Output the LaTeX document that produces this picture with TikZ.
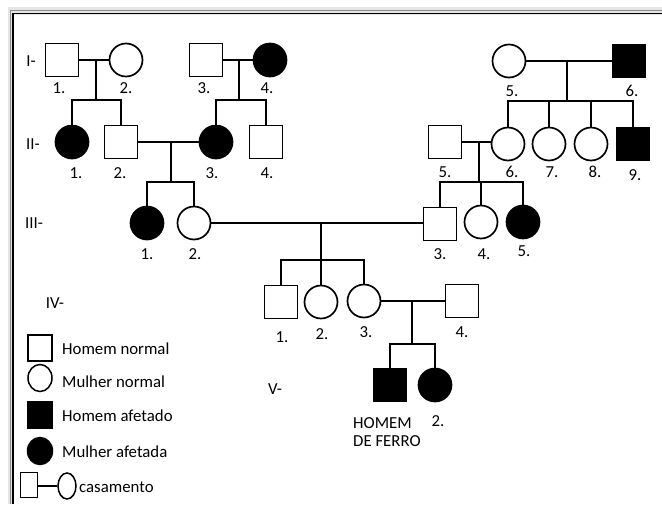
\documentclass[tikz,border=0pt]{standalone}
\usepackage{fontspec}
\setmainfont{Carlito}
\usetikzlibrary{shapes.geometric}
\begin{document}
\begin{tikzpicture}[x=1pt,y=-1pt,
  every node/.style={font=\fontsize{16.8}{19.5}\selectfont},
  ln/.style={line width=1.7pt},
  msq/.style={draw,line width=1.7pt,rectangle,minimum size=33pt,inner sep=0pt},
  fsq/.style={msq,fill=black},
  fem/.style={draw,line width=1.7pt,circle,minimum size=33pt,inner sep=0pt},
  ffem/.style={fem,fill=black},
  lbl/.style={inner sep=0pt},
  txt/.style={inner sep=0pt,anchor=west}]
% frame
\useasboundingbox (0,0) rectangle (662,504);
\fill[black!10] (8,7) rectangle (662,504);
\fill[white] (14,15) rectangle (662,504);
\draw[black!45,line width=1pt] (10.5,504) -- (10.5,10.5) -- (662,10.5);
\draw[black,line width=1.8pt] (13,504) -- (13,13.5) -- (662,13.5);
% generation labels
\node[lbl] (gI) at (31,61) {I-};
\node[lbl] (gII) at (33,144) {II-};
\node[lbl] (gIII) at (34,223) {III-};
\node[lbl] (gIV) at (55,303) {IV-};
\node[lbl] (gV) at (275,389) {V-};
% generation I
\node[msq] (I1) at (62,60) {};
\node[fem] (I2) at (126,60) {};
\node[msq] (I3) at (206,60) {};
\node[ffem] (I4) at (270,60) {};
\node[fem] (I5) at (509,61) {};
\node[fsq] (I6) at (629,61) {};
\node[lbl] (lI1) at (59,88) {1.};
\node[lbl] (lI2) at (126,88) {2.};
\node[lbl] (lI3) at (204,88) {3.};
\node[lbl] (lI4) at (267,88) {4.};
\node[lbl] (lI5) at (512,91) {5.};
\node[lbl] (lI6) at (632,91) {6.};
% generation II
\node[ffem] (II1) at (72,142) {};
\node[msq] (II2) at (121,142) {};
\node[ffem] (II3) at (216,142) {};
\node[msq] (II4) at (266,142) {};
\node[msq] (II5) at (445,142) {};
\node[fem] (II6) at (508,144) {};
\node[fem] (II7) at (549,144) {};
\node[fem] (II8) at (591,144) {};
\node[fsq] (II9) at (633,144) {};
\node[lbl] (lII1) at (76,173) {1.};
\node[lbl] (lII2) at (120,173) {2.};
\node[lbl] (lII3) at (212,173) {3.};
\node[lbl] (lII4) at (267,173) {4.};
\node[lbl] (lII5) at (445,172) {5.};
\node[lbl] (lII6) at (512,172) {6.};
\node[lbl] (lII7) at (552,172) {7.};
\node[lbl] (lII8) at (595,172) {8.};
\node[lbl] (lII9) at (635,175) {9.};
% generation III
\node[ffem] (III1) at (147,223) {};
\node[fem] (III2) at (194,223) {};
\node[msq] (III3) at (440,224) {};
\node[fem] (III4) at (481,222) {};
\node[ffem] (III5) at (523,222) {};
\node[lbl] (lIII1) at (147,254) {1.};
\node[lbl] (lIII2) at (195,254) {2.};
\node[lbl] (lIII3) at (440,254) {3.};
\node[lbl] (lIII4) at (484,254) {4.};
\node[lbl] (lIII5) at (524,251) {5.};
% generation IV
\node[msq] (IV1) at (281,302) {};
\node[fem] (IV2) at (321,302) {};
\node[fem] (IV3) at (364,301) {};
\node[msq] (IV4) at (462,301) {};
\node[lbl] (lIV1) at (282,337) {1.};
\node[lbl] (lIV2) at (322,334) {2.};
\node[lbl] (lIV3) at (366,332) {3.};
\node[lbl] (lIV4) at (462,332) {4.};
% generation V
\node[fsq] (V1) at (390,385) {};
\node[ffem] (V2) at (435,385) {};
\node[txt,align=left] (hf) at (353,432) {HOMEM\\[-1pt]DE FERRO};
\node[lbl] (lV2) at (438,421) {2.};
% junction coordinates
\coordinate (m1) at (96,60);   \coordinate (b1) at (96,100);
\coordinate (m2) at (239,60);  \coordinate (b2) at (239,100);
\coordinate (m3) at (567,61);  \coordinate (b3) at (567,101);
\coordinate (m4) at (171,142); \coordinate (b4) at (171,182);
\coordinate (m5) at (479,142); \coordinate (b5) at (479,182);
\coordinate (m6) at (321,223); \coordinate (b6) at (321,260);
\coordinate (m7) at (412,301); \coordinate (b7) at (412,344);
% marriages and descent
\draw[ln] (I1) -- (I2);
\draw[ln] (m1) -- (b1);
\draw[ln] (II1.north) |- (b1) -| (II2.north);
\draw[ln] (I3) -- (I4);
\draw[ln] (m2) -- (b2);
\draw[ln] (II3.north) |- (b2) -| (II4.north);
\draw[ln] (I5) -- (I6);
\draw[ln] (m3) -- (b3);
\draw[ln] (II6.north) |- (b3) -| (II9.north);
\draw[ln] (II7.north) -- (II7.north |- b3);
\draw[ln] (II8.north) -- (II8.north |- b3);
\draw[ln] (II2) -- (II3);
\draw[ln] (m4) -- (b4);
\draw[ln] (III1.north) |- (b4) -| (III2.north);
\draw[ln] (II5) -- (II6.west |- II5);
\draw[ln] (m5) -- (b5);
\draw[ln] (III3.north) |- (b5) -| (III5.north);
\draw[ln] (III4.north) -- (III4.north |- b5);
\draw[ln] (III2) -- (III3.west |- III2);
\draw[ln] (m6) -- (b6);
\draw[ln] (IV1.north) |- (b6) -| (IV3.north);
\draw[ln] (IV2.north) -- (IV2.north |- b6);
\draw[ln] (IV3) -- (IV4);
\draw[ln] (m7) -- (b7);
\draw[ln] (V1.north) |- (b7) -| (V2.north);
% legend
\node[draw,line width=1.5pt,minimum width=24pt,minimum height=26pt,inner sep=0pt] (k1) at (40,348) {};
\node[txt] (t1) at (62,349) {Homem normal};
\node[draw,line width=1.5pt,ellipse,minimum width=24pt,minimum height=27pt,inner sep=0pt] (k2) at (40,378) {};
\node[txt] (t2) at (62,382) {Mulher normal};
\node[draw,fill=black,line width=1.5pt,minimum width=24pt,minimum height=26pt,inner sep=0pt] (k3) at (40,415) {};
\node[txt] (t3) at (62,416) {Homem afetado};
\node[draw,fill=black,line width=1.5pt,ellipse,minimum width=25pt,minimum height=27pt,inner sep=0pt] (k4) at (40,451) {};
\node[txt] (t4) at (62,452) {Mulher afetada};
\node[draw,line width=1.5pt,minimum width=17pt,minimum height=25pt,inner sep=0pt] (k5) at (29,485) {};
\node[draw,line width=1.5pt,ellipse,minimum width=18pt,minimum height=26pt,inner sep=0pt] (k6) at (67,486) {};
\draw[line width=1.5pt] (k5.east |- k6) -- (k6);
\node[txt] (t5) at (79,487) {casamento};
\end{tikzpicture}
\end{document}
